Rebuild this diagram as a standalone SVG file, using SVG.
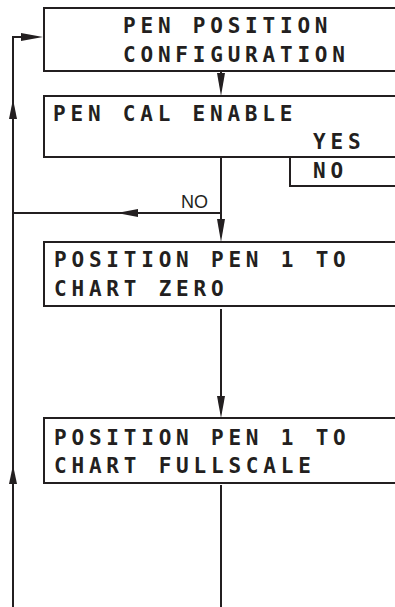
<svg xmlns="http://www.w3.org/2000/svg" width="395" height="607" viewBox="0 0 395 607">
<style>
.box{fill:#fff;stroke:#231f20;stroke-width:2}
.ln{fill:none;stroke:#231f20;stroke-width:2}
.ah{fill:#231f20;stroke:none}
.lcd{font-family:"DejaVu Sans Mono","Liberation Mono",monospace;font-weight:bold;font-size:21px;letter-spacing:4.8px;fill:#231f20}
.lbl{font-family:"Liberation Sans","DejaVu Sans",sans-serif;font-size:18px;fill:#231f20}
</style>
<rect width="395" height="607" fill="#fff"/>
<g id="connectors">
<path class="ln" d="M13,607 V37 H24"/>
<path class="ah" d="M43,37 L21,33 L21,41 Z"/>
<path class="ah" d="M13,99 L9,119 L17,119 Z"/>
<path class="ah" d="M13,465 L9,484 L17,484 Z"/>
<path class="ln" d="M221,71 V76"/>
<path class="ah" d="M221,96 L217,73 L225,73 Z"/>
<path class="ln" d="M221,157 V222"/>
<path class="ah" d="M221,242 L217,219 L225,219 Z"/>
<path class="ln" d="M221,213 H13"/>
<path class="ah" d="M117,213 L138,209 L138,217 Z"/>
<text class="lbl" x="181" y="207.5">NO</text>
<path class="ln" d="M221,309 V398"/>
<path class="ah" d="M221,418 L217,396 L225,396 Z"/>
<path class="ln" d="M221,485 V607"/>
</g>
<g id="node-pen-position-config">
<rect class="box" x="44" y="8" width="360" height="63"/>
<text class="lcd" x="123" y="33">PEN POSITION</text>
<text class="lcd" x="123" y="62">CONFIGURATION</text>
</g>
<g id="node-pen-cal-enable">
<rect class="box" x="44" y="96" width="360" height="61"/>
<text class="lcd" x="53" y="121">PEN CAL ENABLE</text>
<text class="lcd" x="313" y="149">YES</text>
</g>
<g id="node-no-option">
<rect class="box" x="290" y="157" width="114" height="29"/>
<text class="lcd" x="313" y="178">NO</text>
</g>
<g id="node-chart-zero">
<rect class="box" x="44" y="242" width="360" height="64"/>
<text class="lcd" x="54" y="267">POSITION PEN 1 TO</text>
<text class="lcd" x="54" y="296">CHART ZERO</text>
</g>
<g id="node-chart-fullscale">
<rect class="box" x="44" y="418" width="360" height="65"/>
<text class="lcd" x="54" y="445">POSITION PEN 1 TO</text>
<text class="lcd" x="54" y="473">CHART FULLSCALE</text>
</g>
</svg>
